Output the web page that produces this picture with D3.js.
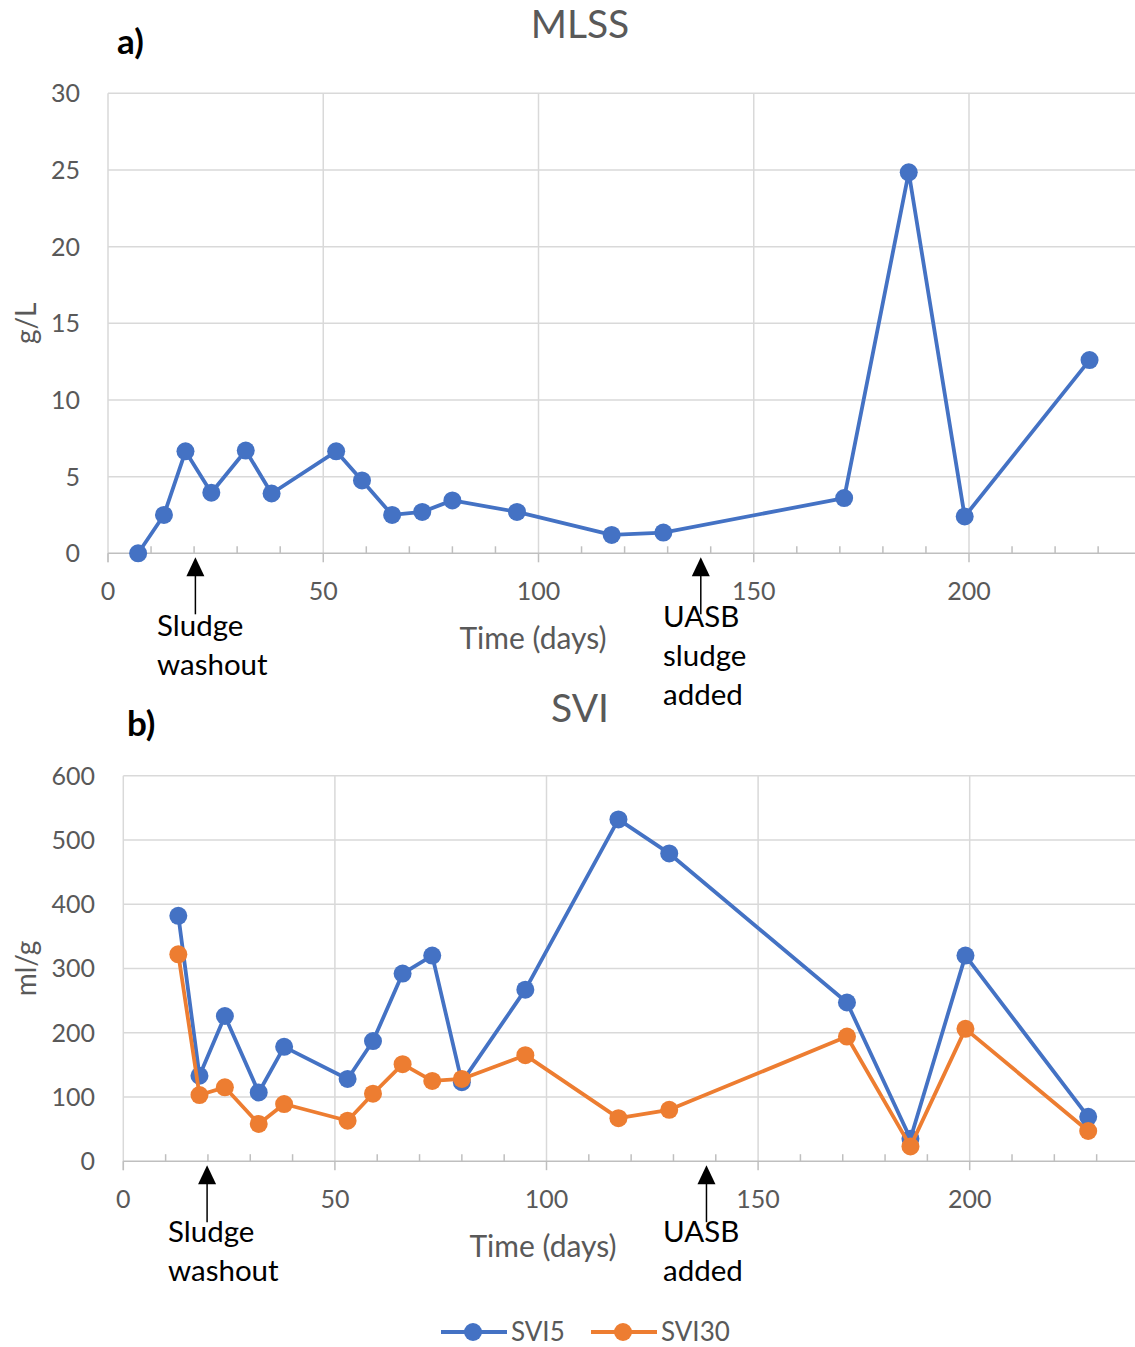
<!DOCTYPE html>
<html>
<head>
<meta charset="utf-8">
<script src="https://cdn.jsdelivr.net/npm/d3@7/dist/d3.min.js"></script>
<style>
  body { margin: 0; background: #fff; }
  svg { display: block; }
  text { font-family: Lato, "Open Sans", sans-serif; }
</style>
</head>
<body>
<svg id="chart" width="1135" height="1347"></svg>
<script>
// Sampling days (reactor operation time)
const mlssDays = [7, 13, 18, 24, 32, 38, 53, 59, 66, 73, 80, 95, 117, 129, 171, 186, 199, 228];
// Mixed liquor suspended solids, g/L
const mlss = [0, 2.5, 6.65, 3.95, 6.7, 3.9, 6.65, 4.75, 2.5, 2.7, 3.45, 2.7, 1.2, 1.35, 3.6, 24.85, 2.4, 12.6];

const sviDays = [13, 18, 24, 32, 38, 53, 59, 66, 73, 80, 95, 117, 129, 171, 186, 199, 228];
// Sludge volume index after 5 and 30 minutes, ml/g
const svi5 = [382, 133, 226, 107, 178, 128, 187, 292, 320, 123, 267, 532, 479, 247, 35, 320, 69];
const svi30 = [322, 103, 115, 58, 89, 63, 105, 151, 125, 128, 165, 67, 80, 194, 23, 206, 47];

const xTicks = [0, 50, 100, 150, 200, 250];
const xTickLabels = [0, 50, 100, 150, 200];
const mlssTicks = [0, 5, 10, 15, 20, 25, 30];
const sviTicks = [0, 100, 200, 300, 400, 500, 600];

const BLUE = "#4472C4", ORANGE = "#ED7D31";
const GRID = "#d9d9d9", AXIS = "#bfbfbf", LABEL = "#595959";

const svg = d3.select("#chart");
const W = 1135;

function panel(cfg) {
  const g = svg.append("g");
  const x = d3.scaleLinear().domain([0, 250]).range([cfg.left, cfg.left + 250 * cfg.pxPerDay]);
  const y = d3.scaleLinear().domain([0, cfg.yMax]).range([cfg.bottom, cfg.top]);

  // vertical gridlines
  g.selectAll(".vg").data(xTicks.filter(d => d > 0)).join("line")
    .attr("x1", d => x(d)).attr("x2", d => x(d))
    .attr("y1", cfg.top).attr("y2", cfg.bottom)
    .attr("stroke", GRID).attr("stroke-width", 1.5);
  // horizontal gridlines
  g.selectAll(".hg").data(cfg.yTicks.filter(d => d > 0)).join("line")
    .attr("x1", x(0)).attr("x2", W)
    .attr("y1", d => y(d)).attr("y2", d => y(d))
    .attr("stroke", GRID).attr("stroke-width", 1.5);
  // left axis line
  g.append("line").attr("x1", x(0)).attr("x2", x(0))
    .attr("y1", cfg.top).attr("y2", cfg.bottom + 9)
    .attr("stroke", GRID).attr("stroke-width", 1.5);
  // x axis line
  g.append("line").attr("x1", x(0)).attr("x2", W)
    .attr("y1", y(0)).attr("y2", y(0))
    .attr("stroke", AXIS).attr("stroke-width", 1.5);
  // major ticks (outside)
  g.selectAll(".mt").data(xTicks).join("line")
    .attr("x1", d => x(d)).attr("x2", d => x(d))
    .attr("y1", y(0)).attr("y2", y(0) + 9)
    .attr("stroke", AXIS).attr("stroke-width", 1.5);
  // minor ticks (inside)
  g.selectAll(".nt").data(d3.range(10, 250, 10).filter(d => d % 50 !== 0)).join("line")
    .attr("x1", d => x(d)).attr("x2", d => x(d))
    .attr("y1", y(0) - 7).attr("y2", y(0))
    .attr("stroke", AXIS).attr("stroke-width", 1.5);

  // tick labels
  g.selectAll(".xl").data(xTickLabels).join("text")
    .attr("x", d => x(d)).attr("y", y(0) + 47)
    .attr("text-anchor", "middle").attr("font-size", 25).attr("fill", LABEL)
    .text(d => d);
  g.selectAll(".yl").data(cfg.yTicks).join("text")
    .attr("x", cfg.yLabelX).attr("y", d => y(d) + 9)
    .attr("text-anchor", "end").attr("font-size", 25).attr("fill", LABEL)
    .text(d => d);

  // axis titles
  g.append("text").attr("x", cfg.xTitleX).attr("y", y(0) + 96)
    .attr("text-anchor", "middle").attr("font-size", 30).attr("fill", LABEL)
    .text("Time (days)");
  g.append("text")
    .attr("transform", `translate(${cfg.yTitleX},${(cfg.top + cfg.bottom) / 2}) rotate(-90)`)
    .attr("text-anchor", "middle").attr("font-size", 28).attr("fill", LABEL)
    .text(cfg.yTitle);

  // chart title and panel letter
  g.append("text").attr("x", 580).attr("y", cfg.titleY)
    .attr("text-anchor", "middle").attr("font-size", 39).attr("fill", LABEL)
    .text(cfg.title);
  g.append("text").attr("x", cfg.letterX).attr("y", cfg.letterY)
    .attr("font-size", 35).attr("font-weight", "bold").attr("fill", "#000")
    .text(cfg.letter);

  // series
  cfg.series.forEach(s => {
    const pts = s.values.map((v, i) => [s.days[i], v]);
    g.append("path").datum(pts)
      .attr("d", d3.line().x(d => x(d[0])).y(d => y(d[1])))
      .attr("fill", "none").attr("stroke", s.color).attr("stroke-width", 3.8)
      .attr("stroke-linejoin", "round");
    g.selectAll(null).data(pts).join("circle")
      .attr("cx", d => x(d[0])).attr("cy", d => y(d[1])).attr("r", 9)
      .attr("fill", s.color);
  });

  // event annotations
  cfg.events.forEach(ev => {
    const ax = x(ev.day), tip = y(0) + 4;
    g.append("path")
      .attr("d", `M${ax},${tip} L${ax - 9},${tip + 19} L${ax + 9},${tip + 19} Z`)
      .attr("fill", "#000");
    g.append("line").attr("x1", ax).attr("x2", ax)
      .attr("y1", tip + 15).attr("y2", tip + 57)
      .attr("stroke", "#000").attr("stroke-width", 1.5);
    g.selectAll(null).data(ev.label).join("text")
      .attr("x", ev.textX).attr("y", (d, i) => ev.textY + i * 39)
      .attr("font-size", 29.5).attr("fill", "#000")
      .text(d => d);
  });
  return { x, y };
}

panel({
  left: 108, pxPerDay: 4.305, top: 93.3, bottom: 553.3, yMax: 30, yTicks: mlssTicks,
  yLabelX: 80, yTitleX: 36, yTitle: "g/L", xTitleX: 533,
  title: "MLSS", titleY: 38, letter: "a)", letterX: 117, letterY: 54,
  series: [{ days: mlssDays, values: mlss, color: BLUE }],
  events: [
    { day: 20.3, label: ["Sludge", "washout"], textX: 157, textY: 636 },
    { day: 137.7, label: ["UASB", "sludge", "added"], textX: 663, textY: 627 }
  ]
});

panel({
  left: 123.3, pxPerDay: 4.232, top: 775.7, bottom: 1161.2, yMax: 600, yTicks: sviTicks,
  yLabelX: 95, yTitleX: 36, yTitle: "ml/g", xTitleX: 543,
  title: "SVI", titleY: 722, letter: "b)", letterX: 127, letterY: 736,
  series: [
    { days: sviDays, values: svi5, color: BLUE },
    { days: sviDays, values: svi30, color: ORANGE }
  ],
  events: [
    { day: 19.8, label: ["Sludge", "washout"], textX: 168, textY: 1242 },
    { day: 137.8, label: ["UASB", "added"], textX: 663, textY: 1242 }
  ]
});

// legend
const legend = svg.append("g");
const legendItems = [
  { name: "SVI5", color: BLUE, x0: 441 },
  { name: "SVI30", color: ORANGE, x0: 591 }
];
legendItems.forEach(it => {
  legend.append("line").attr("x1", it.x0).attr("x2", it.x0 + 66)
    .attr("y1", 1332).attr("y2", 1332)
    .attr("stroke", it.color).attr("stroke-width", 3.8);
  legend.append("circle").attr("cx", it.x0 + 32).attr("cy", 1332).attr("r", 9)
    .attr("fill", it.color);
  legend.append("text").attr("x", it.x0 + 70).attr("y", 1341)
    .attr("font-size", 26).attr("fill", LABEL).text(it.name);
});
</script>
</body>
</html>
